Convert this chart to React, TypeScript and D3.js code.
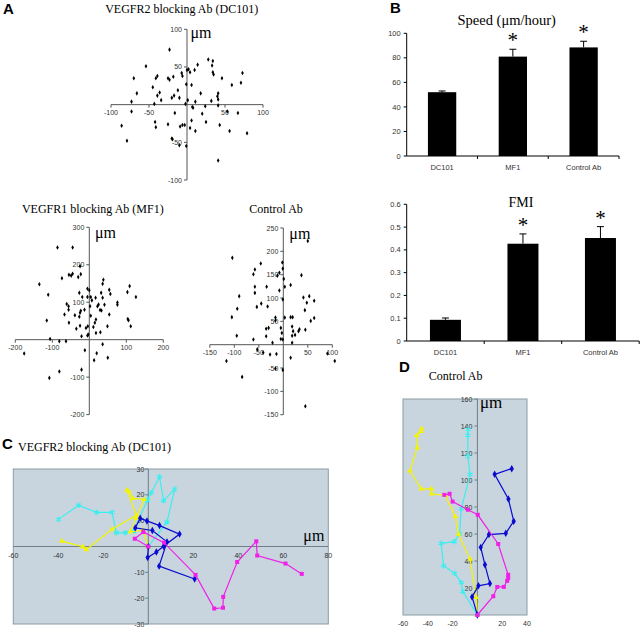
import React from "react";
import * as d3 from "d3";

// ---------- DATA ----------
const dc101Points: [number, number][] = [
  [-23, 73], [-54, 51], [-70, 35], [-66, 15], [-73, 4], [-73, -9], [-86, -28], [-79, -48],
  [-41, 35], [-39, 38], [-45, 23], [-39, 12], [-36, 16], [-34, 6], [-43, 1], [-42, -23],
  [-41, -30], [-25, 35], [-23, 33], [-18, 37], [-20, 9], [-17, 12], [-12, 19], [-10, 9],
  [-25, -26], [-16, -11], [-9, -29], [-6, -27], [-3, -27], [-20, -45], [-19, -46], [-10, -54],
  [-1, -55], [-7, 42], [-6, 38], [0, 46], [2, 47], [4, 43], [-1, 27], [6, 26], [10, 46],
  [14, 53], [-2, 1], [1, 6], [7, -3], [11, 4], [8, -4], [6, -21], [4, -31], [11, -35],
  [18, 15], [24, -2], [20, -12], [25, -23], [28, 60], [34, 58], [33, 52], [34, 43], [35, 40],
  [32, 5], [41, 15], [40, 11], [41, 7], [41, -1], [46, 35], [43, -27], [41, -74], [53, -9],
  [59, 26], [56, -35], [67, -11], [71, 29], [73, 42], [79, -38]
];
const mf1Points: [number, number][] = [
  [-176, -37], [-135, 148], [-111, 120], [-115, 51], [-106, 2], [-81, -4], [-63, -4], [-108, -102],
  [-81, -85], [-86, 246], [-45, 246], [-74, 164], [-55, 173], [-49, 171], [-45, 176], [-30, 167],
  [-23, 175], [-25, 196], [-61, 95], [-56, 89], [-56, 80], [-67, 67], [-55, 45], [-39, 65],
  [-35, 29], [-27, 61], [-25, 72], [-23, 77], [-25, 37], [-21, 9], [-27, 125], [-19, 114],
  [-13, 80], [-9, 31], [-5, 136], [0, 132], [-5, 114], [4, 114], [7, 105], [2, 89], [4, 64],
  [-4, 36], [-3, 14], [-5, 11], [-12, -28], [11, 34], [15, 45], [18, 54], [18, 18], [17, 112],
  [22, 89], [25, 94], [29, 79], [33, 78], [30, 20], [32, 125], [36, 112], [38, 160], [36, 149],
  [41, 93], [49, 36], [54, 67], [54, 133], [57, 122], [20, -36], [13, -55], [36, -12], [50, -48],
  [76, 93], [76, 99], [103, 127], [109, 143], [104, 55], [106, 52], [112, 36], [126, 114], [-21, -80]
];
const controlPoints: [number, number][] = [
  [-104, 186], [-46, 174], [-58, 161], [-61, 151], [-2, 176], [-1, 163], [-8, 154], [-12, 148],
  [1, 141], [3, 124], [15, 128], [37, 149], [50, 222], [-90, 104], [-94, 77], [-105, 59],
  [-58, 124], [-58, 111], [-45, 88], [-54, 81], [-34, 124], [-32, 82], [-8, 116], [-1, 97],
  [-16, 58], [-16, 52], [-30, 36], [-35, 34], [-35, 18], [-5, 36], [-3, 25], [-5, 12], [-1, 11],
  [-22, 4], [-95, 19], [-61, 11], [3, 58], [15, 59], [19, 59], [18, 39], [20, 29], [18, 19],
  [24, 21], [18, 4], [31, 29], [33, 33], [44, 74], [48, 90], [41, 101], [53, 104], [63, 94],
  [56, 51], [63, 57], [45, 32], [15, -28], [-14, -20], [-27, -21], [-53, -10], [-41, -17],
  [-116, -35], [-84, -69], [-16, -51], [-1, -54], [45, -132], [90, -19], [105, -35]
];

const categories = ["DC101", "MF1", "Control Ab"];
const speedValues = [52, 81, 88.5];
const speedErrors = [1, 6, 5];
const speedSignificant = [false, true, true];
const speedTicks = [0, 20, 40, 60, 80, 100];
const fmiValues = [0.093, 0.427, 0.452];
const fmiErrors = [0.008, 0.043, 0.05];
const fmiSignificant = [false, true, true];
const fmiTicks = [0, 0.1, 0.2, 0.3, 0.4, 0.5, 0.6];

const cMagenta: [number, number][] = [
  [0, 0], [-6, 3], [-2.2, 5.6], [7, 1.5], [21, -11], [29.3, -24], [33.2, -23.7], [33.3, -19.5],
  [39.5, -6], [48, 2], [48.4, -3.5], [61, -6.6], [68.2, -10.6]
];
const cBlue: [number, number][] = [
  [0, 0], [-0.3, -4.3], [3.6, -2.1], [6.8, 0.1], [13.9, 4.8], [5, 8.1], [-0.6, 9.9], [-3.6, 10.9],
  [-5.8, 7.2], [1.8, 6.2], [8.3, 1.8], [4.8, -7.6], [20.6, -12.6]
];
const cCyan: [number, number][] = [
  [0, 0], [8.3, 9.5], [11.7, 22.2], [6.8, 17.7], [5, 27], [1.3, 20.8], [-0.4, 18], [-6.5, 6],
  [-10.2, 5.3], [-14.2, 5.3], [-16.1, 13.2], [-23.1, 13.2], [-31, 16], [-39.9, 10.5]
];
const cYellow: [number, number][] = [
  [0, 0], [-2.4, 6.3], [-8, 5.7], [-5.5, 11], [-1.8, 18.2], [-6.8, 18.6], [-8.6, 21.2],
  [-9.5, 21.8], [-5.3, 12.1], [-16.1, 6.7], [-27.6, -1.2], [-29, -0.1], [-38.4, 2.1]
];
const cXTicks = [-60, -40, -20, 20, 40, 60, 80];
const cYTicks = [30, 20, 10, -10, -20, -30];

const dYellow: [number, number][] = [
  [0, 0], [-1, 13], [-6, 41.4], [-15.2, 60], [-17.9, 73], [-25.9, 88.6], [-37, 89.8], [-37, 93.5],
  [-45.3, 93.5], [-54.4, 106.7], [-48.5, 124], [-49, 133], [-45.5, 136], [-45, 138]
];
const dMagenta: [number, number][] = [
  [0, 0], [12.8, 13.9], [16, 20.8], [21.3, 20.8], [24, 25.3], [24.8, 27.3], [24.8, 29.8],
  [16.8, 52.6], [0.3, 74.2], [-7.7, 78], [-20, 84], [-22.4, 89.8], [-26.7, 89]
];
const dBlue: [number, number][] = [
  [0, 0], [-4.3, 13.4], [0.8, 21.6], [10.1, 23.3], [6.1, 37.2], [2.7, 50.1], [9.3, 59.6],
  [22.9, 60.5], [29.3, 69.5], [25, 85.9], [13.9, 104.2], [27.7, 108.4]
];
const dCyan: [number, number][] = [
  [0, 0], [-11.7, 17.4], [-13, 24], [-18.4, 30.8], [-27.2, 36.5], [-29.3, 53.1], [-18.7, 54.3],
  [-14.4, 60], [-13, 78.7], [-5.9, 104.2], [-7.7, 117.6], [-7.7, 133.2], [-7.5, 137.5]
];
const dXTicks = [-60, -40, -20, 20, 40];
const dYTicks = [20, 40, 60, 80, 100, 120, 140, 160];

// ---------- STYLE ----------
const SANS = "'Liberation Sans', Arial, sans-serif";
const SERIF = "'Liberation Serif', 'Times New Roman', serif";
const TICK_COLOR = "#333";
const COL = { magenta: "#f020e8", blue: "#0a0ad0", cyan: "#3ceef0", yellow: "#f4f400" };

type Sc = d3.ScaleLinear<number, number>;

function CrossScatter({ pts, x, y, xTicks, yTicks }: { pts: [number, number][]; x: Sc; y: Sc; xTicks: number[]; yTicks: number[] }) {
  const [x0, x1] = x.range();
  const [y0, y1] = y.range();
  const ax = x(0);
  const ay = y(0);
  const diamond = d3.symbol(d3.symbolDiamond, 6)();
  return (
    <g>
      <line x1={x0} x2={x1} y1={ay} y2={ay} stroke="#555" strokeWidth={1} />
      <line x1={ax} x2={ax} y1={y0} y2={y1} stroke="#555" strokeWidth={1} />
      {xTicks.map((t) => (
        <g key={"x" + t}>
          <line x1={x(t)} x2={x(t)} y1={ay} y2={ay + 3} stroke="#555" />
          <text x={x(t)} y={ay + 10.5} fontSize={7} fontFamily={SANS} fill={TICK_COLOR} textAnchor="middle">{t}</text>
        </g>
      ))}
      {yTicks.map((t) => (
        <g key={"y" + t}>
          <line x1={ax - 3} x2={ax} y1={y(t)} y2={y(t)} stroke="#555" />
          <text x={ax - 5} y={y(t) + 2.5} fontSize={7} fontFamily={SANS} fill={TICK_COLOR} textAnchor="end">{t}</text>
        </g>
      ))}
      {pts.map((p, i) => (
        <path key={i} d={diamond!} transform={`translate(${x(p[0])},${y(p[1])})`} fill="#000" />
      ))}
    </g>
  );
}

function BarChart({ values, errors, sig, ticks, range, yDomain, yRange, fmt }: {
  values: number[]; errors: number[]; sig: boolean[]; ticks: number[]; range: [number, number];
  yDomain: [number, number]; yRange: [number, number]; fmt: (v: number) => string;
}) {
  const x = d3.scaleBand<string>().domain(categories).range(range).paddingInner(0.6).paddingOuter(0.3);
  const y = d3.scaleLinear().domain(yDomain).range(yRange);
  const step = x.step();
  const base = y(0);
  return (
    <g>
      <line x1={range[0]} x2={range[1]} y1={base} y2={base} stroke="#000" />
      <line x1={range[0]} x2={range[0]} y1={base} y2={yRange[1]} stroke="#000" />
      {ticks.map((t) => (
        <g key={t}>
          <line x1={range[0] - 3} x2={range[0]} y1={y(t)} y2={y(t)} stroke="#000" />
          <text x={range[0] - 6} y={y(t) + 2.6} fontSize={7.5} fontFamily={SANS} fill={TICK_COLOR} textAnchor="end">{fmt(t)}</text>
        </g>
      ))}
      {categories.map((c, i) => (
        <line key={"bt" + c} x1={range[0] + step * (i + 1)} x2={range[0] + step * (i + 1)} y1={base} y2={base + 3} stroke="#000" />
      ))}
      {categories.map((c, i) => {
        const bx = x(c)!;
        const cx = bx + x.bandwidth() / 2;
        const top = y(values[i]);
        const et = y(values[i] + errors[i]);
        return (
          <g key={c}>
            <rect x={bx} y={top} width={x.bandwidth()} height={base - top} fill="#000" />
            <line x1={cx} x2={cx} y1={top} y2={et} stroke="#000" />
            <line x1={cx - 3.5} x2={cx + 3.5} y1={et} y2={et} stroke="#000" />
            {sig[i] && (
              <text x={cx} y={et - 2} fontSize={21} fontFamily={SERIF} textAnchor="middle" fill="#000">*</text>
            )}
            <text x={cx} y={base + 14} fontSize={7.5} fontFamily={SANS} fill={TICK_COLOR} textAnchor="middle">{c}</text>
          </g>
        );
      })}
    </g>
  );
}

function Track({ pts, x, y, color, shape }: { pts: [number, number][]; x: Sc; y: Sc; color: string; shape: string }) {
  const line = d3.line<[number, number]>().x((d) => x(d[0])).y((d) => y(d[1]));
  let sym: string | null = null;
  let stroke = false;
  if (shape === "square") sym = d3.symbol(d3.symbolSquare, 16)();
  else if (shape === "diamond") sym = d3.symbol(d3.symbolDiamond, 16)();
  else if (shape === "triangle") sym = d3.symbol(d3.symbolTriangle, 14)();
  else { sym = d3.symbol(d3.symbolAsterisk, 22)(); stroke = true; }
  return (
    <g>
      <path d={line(pts)!} fill="none" stroke={color} strokeWidth={1.2} />
      {pts.map((p, i) => (
        <path key={i} d={sym!} transform={`translate(${x(p[0])},${y(p[1])})`}
          fill={stroke ? "none" : color} stroke={stroke ? color : "none"} strokeWidth={1.2} />
      ))}
    </g>
  );
}

export default function App() {
  // Panel A scales
  const xA1 = d3.scaleLinear().domain([-100, 100]).range([111, 263]);
  const yA1 = d3.scaleLinear().domain([-100, 100]).range([180, 29.3]);
  const xA2 = d3.scaleLinear().domain([-200, 200]).range([15.3, 163.3]);
  const yA2 = d3.scaleLinear().domain([-200, 300]).range([414.6, 227.3]);
  const xA3 = d3.scaleLinear().domain([-150, 100]).range([209.8, 332.3]);
  const yA3 = d3.scaleLinear().domain([-150, 250]).range([414.7, 228]);
  // Panel C
  const xC = d3.scaleLinear().domain([-60, 80]).range([13.3, 328.3]);
  const yC = d3.scaleLinear().domain([-30, 30]).range([624, 469]);
  // Panel D
  const xD = d3.scaleLinear().domain([-60, 40]).range([403, 527]);
  const yD = d3.scaleLinear().domain([0, 160]).range([615, 399]);

  const bg = "#c8d5de";
  const border = "#8c9ba4";
  const axisCol = "#6e7e88";

  return (
    <svg width={640} height={637} style={{ position: "absolute", left: 0, top: 0, background: "#fff" }}>
      <rect x={0} y={0} width={640} height={637} fill="#fff" />
      {/* Panel labels */}
      <text x={3} y={14} fontSize={15} fontWeight="bold" fontFamily={SANS}>A</text>
      <text x={390} y={13} fontSize={15} fontWeight="bold" fontFamily={SANS}>B</text>
      <text x={2} y={449} fontSize={15} fontWeight="bold" fontFamily={SANS}>C</text>
      <text x={399} y={372} fontSize={15} fontWeight="bold" fontFamily={SANS}>D</text>

      {/* Panel A */}
      <text x={181.7} y={13.3} fontSize={12} fontFamily={SERIF} textAnchor="middle">VEGFR2 blocking Ab (DC101)</text>
      <CrossScatter pts={dc101Points} x={xA1} y={yA1} xTicks={[-100, -50, 50, 100]} yTicks={[100, 50, -50, -100]} />
      <text x={190.5} y={38} fontSize={16} fontFamily={SERIF}>μm</text>

      <text x={92.8} y={213} fontSize={12} fontFamily={SERIF} textAnchor="middle">VEGFR1 blocking Ab (MF1)</text>
      <CrossScatter pts={mf1Points} x={xA2} y={yA2} xTicks={[-200, -100, 100, 200]} yTicks={[300, 200, 100, -100, -200]} />
      <text x={95} y={237.5} fontSize={16} fontFamily={SERIF}>μm</text>

      <text x={276} y={213} fontSize={12} fontFamily={SERIF} textAnchor="middle">Control Ab</text>
      <CrossScatter pts={controlPoints} x={xA3} y={yA3} xTicks={[-150, -100, -50, 50, 100]} yTicks={[250, 200, 150, 100, 50, -50, -100, -150]} />
      <text x={289.3} y={239.3} fontSize={16} fontFamily={SERIF}>μm</text>

      {/* Panel B */}
      <text x={506.7} y={25} fontSize={14.5} fontFamily={SERIF} textAnchor="middle">Speed (μm/hour)</text>
      <BarChart values={speedValues} errors={speedErrors} sig={speedSignificant} ticks={speedTicks}
        range={[406.7, 619]} yDomain={[0, 100]} yRange={[156, 33.3]} fmt={(v) => String(v)} />
      <text x={521} y={207} fontSize={14} fontFamily={SERIF} textAnchor="middle">FMI</text>
      <BarChart values={fmiValues} errors={fmiErrors} sig={fmiSignificant} ticks={fmiTicks}
        range={[406.7, 639.2]} yDomain={[0, 0.6]} yRange={[341, 204.3]} fmt={(v) => (v === 0 ? "0" : String(v))} />

      {/* Panel C */}
      <text x={18} y={450.7} fontSize={12} fontFamily={SERIF}>VEGFR2 blocking Ab (DC101)</text>
      <rect x={xC(-60)} y={yC(30)} width={xC(80) - xC(-60)} height={yC(-30) - yC(30)} fill={bg} stroke={border} />
      <line x1={xC(-60)} x2={xC(80)} y1={yC(0)} y2={yC(0)} stroke={axisCol} strokeWidth={1} />
      <line x1={xC(0)} x2={xC(0)} y1={yC(30)} y2={yC(-30)} stroke={axisCol} strokeWidth={1} />
      {cXTicks.map((t) => (
        <text key={t} x={xC(t)} y={yC(0) + 11} fontSize={7} fontFamily={SANS} fill={TICK_COLOR} textAnchor="middle">{t}</text>
      ))}
      {cYTicks.map((t) => (
        <g key={t}>
          <line x1={xC(0) - 3} x2={xC(0)} y1={yC(t)} y2={yC(t)} stroke={axisCol} />
          <text x={xC(0) - 4} y={yC(t) + 2.5} fontSize={7} fontFamily={SANS} fill={TICK_COLOR} textAnchor="end">{t}</text>
        </g>
      ))}
      <Track pts={cCyan} x={xC} y={yC} color={COL.cyan} shape="asterisk" />
      <Track pts={cYellow} x={xC} y={yC} color={COL.yellow} shape="triangle" />
      <Track pts={cBlue} x={xC} y={yC} color={COL.blue} shape="diamond" />
      <Track pts={cMagenta} x={xC} y={yC} color={COL.magenta} shape="square" />
      <text x={303.3} y={540.7} fontSize={16} fontFamily={SERIF}>μm</text>

      {/* Panel D */}
      <text x={455.7} y={380} fontSize={12} fontFamily={SERIF} textAnchor="middle">Control Ab</text>
      <rect x={xD(-60)} y={yD(160)} width={xD(40) - xD(-60)} height={yD(0) - yD(160)} fill={bg} stroke={border} />
      <line x1={xD(0)} x2={xD(0)} y1={yD(160)} y2={yD(0)} stroke={axisCol} strokeWidth={1} />
      {dYTicks.map((t) => (
        <g key={t}>
          <line x1={xD(0) - 3} x2={xD(0)} y1={yD(t)} y2={yD(t)} stroke={axisCol} />
          <text x={xD(0) - 5} y={yD(t) + 2.5} fontSize={7} fontFamily={SANS} fill={TICK_COLOR} textAnchor="end">{t}</text>
        </g>
      ))}
      {dXTicks.map((t) => (
        <text key={t} x={xD(t)} y={yD(0) + 11} fontSize={7} fontFamily={SANS} fill={TICK_COLOR} textAnchor="middle">{t}</text>
      ))}
      <Track pts={dCyan} x={xD} y={yD} color={COL.cyan} shape="asterisk" />
      <Track pts={dYellow} x={xD} y={yD} color={COL.yellow} shape="triangle" />
      <Track pts={dBlue} x={xD} y={yD} color={COL.blue} shape="diamond" />
      <Track pts={dMagenta} x={xD} y={yD} color={COL.magenta} shape="square" />
      <text x={480} y={407.7} fontSize={17} fontFamily={SERIF}>μm</text>
    </svg>
  );
}
